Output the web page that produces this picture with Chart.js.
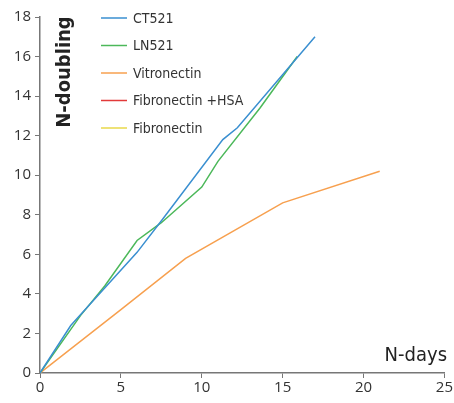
<!DOCTYPE html>
<html>
<head>
<meta charset="utf-8">
<script src="https://cdn.jsdelivr.net/npm/chart.js@4"></script>
<style>
  html, body { margin: 0; padding: 0; background: #fff; }
  #wrap { width: 454px; height: 403px; }
</style>
</head>
<body>
<div id="wrap"><canvas id="myChart"></canvas></div>
<script>
// values (x = days, y = doublings)
var ct521 = [[0,0],[1.9,2.4],[4,4.3],[6,6.1],[7.6,7.8],[11.3,11.8],[12.2,12.4],[17,17]];
var ln521 = [[0,0],[2.5,2.9],[4,4.4],[6,6.7],[7.5,7.6],[10,9.4],[11,10.7],[13.6,13.4],[15.9,16.0]];
var vitronectin = [[0,0],[5,3.2],[9,5.8],[12,7.2],[15,8.6],[21,10.2]];
var fibroHSA = [];
var fibronectin = [];

var seriesNames = ['CT521', 'LN521', 'Vitronectin', 'Fibronectin +HSA', 'Fibronectin'];
var seriesColors = ['#3a8fd0', '#4cb85a', '#f7a04f', '#e23a3a', '#e8d84a'];
var seriesData = [ct521, ln521, vitronectin, fibroHSA, fibronectin];

var xTicks = [0, 5, 10, 15, 20, 25];
var yTicks = [0, 2, 4, 6, 8, 10, 12, 14, 16, 18];

var tickFont = '"Open Sans", sans-serif';
var narrowFont = '"DejaVu Sans Condensed", "DejaVu Sans", sans-serif';

function toPts(arr) {
    return arr.map(function (p) { return { x: p[0], y: p[1] }; });
}

// legend + axis titles drawn inside the plot
var overlay = {
    id: 'overlay',
    afterDraw: function (chart) {
        var ctx = chart.ctx;
        ctx.save();
        // legend
        ctx.font = '14px ' + narrowFont;
        ctx.textBaseline = 'middle';
        ctx.textAlign = 'left';
        for (var i = 0; i < seriesNames.length; i++) {
            var y = 18 + i * 27.5;
            ctx.strokeStyle = seriesColors[i];
            ctx.lineWidth = 1.5;
            ctx.beginPath();
            ctx.moveTo(101, y);
            ctx.lineTo(127, y);
            ctx.stroke();
            ctx.fillStyle = '#333';
            ctx.fillText(seriesNames[i], 133, y + 1);
        }
        // y title
        ctx.save();
        ctx.translate(70, 72);
        ctx.rotate(-Math.PI / 2);
        ctx.textAlign = 'center';
        ctx.textBaseline = 'alphabetic';
        ctx.font = 'bold 20px ' + narrowFont;
        ctx.fillStyle = '#222';
        ctx.fillText('N-doubling', 0, 0);
        ctx.restore();
        // x title
        ctx.textAlign = 'right';
        ctx.font = '20px ' + narrowFont;
        ctx.fillStyle = '#222';
        ctx.fillText('N-days', 447, 356);
        ctx.restore();
    }
};

var ctx = document.getElementById('myChart');
var myChart = new Chart(ctx, {
    type: 'line',
    data: {
        datasets: seriesNames.map(function (n, i) {
            return {
                label: n,
                data: toPts(seriesData[i]),
                borderColor: seriesColors[i],
                borderWidth: 1.5,
                pointRadius: 0,
                tension: 0,
                fill: false
            };
        })
    },
    options: {
        responsive: true,
        maintainAspectRatio: false,
        animation: false,
        layout: { padding: { left: 0, right: 9, top: 17, bottom: 0 } },
        scales: {
            x: {
                type: 'linear',
                min: 0,
                max: 25,
                afterBuildTicks: function (s) { s.ticks = xTicks.map(function (v) { return { value: v }; }); },
                afterFit: function (s) { s.height = 30; },
                grid: { drawOnChartArea: false, tickLength: 5, color: '#777', tickColor: '#777' },
                border: { color: '#777', width: 1.5 },
                ticks: { color: '#333', font: { family: tickFont, size: 15 }, padding: 1, maxRotation: 0 }
            },
            y: {
                min: 0,
                max: 18,
                afterBuildTicks: function (s) { s.ticks = yTicks.map(function (v) { return { value: v }; }); },
                afterFit: function (s) { s.width = 40; },
                grid: { drawOnChartArea: false, tickLength: 5, color: '#777', tickColor: '#777' },
                border: { color: '#777', width: 1.5 },
                ticks: { color: '#333', font: { family: tickFont, size: 15 }, padding: 4 }
            }
        },
        plugins: {
            legend: { display: false },
            tooltip: { enabled: false }
        }
    },
    plugins: [overlay]
});
</script>
</body>
</html>
